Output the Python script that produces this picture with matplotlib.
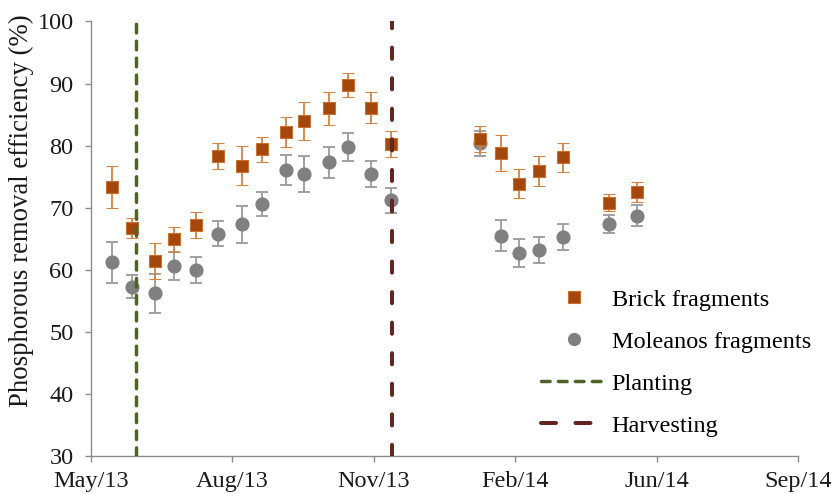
import matplotlib
matplotlib.use("Agg")
import matplotlib.pyplot as plt
import matplotlib.dates as mdates
from matplotlib.lines import Line2D
import pandas as pd

plt.rcParams["font.family"] = ["Liberation Serif", "DejaVu Serif"]
plt.rcParams["lines.scale_dashes"] = False

# Sampling dates
sample_dates = [
    "2013-05-16", "2013-05-30", "2013-06-15", "2013-06-29", "2013-07-14",
    "2013-07-30", "2013-08-16", "2013-08-30", "2013-09-16", "2013-09-29",
    "2013-10-16", "2013-10-30", "2013-11-15", "2013-11-29", "2014-01-31",
    "2014-02-15", "2014-02-28", "2014-03-14", "2014-03-31", "2014-05-02",
    "2014-05-22",
]

# Phosphorous removal efficiency (%) and standard deviations
brick_mean = [73.4, 66.7, 61.4, 64.9, 67.2, 78.4, 76.8, 79.4, 82.2, 84.0,
              86.0, 89.8, 86.1, 80.3, 81.1, 78.8, 73.9, 75.9, 78.1, 70.8, 72.5]
brick_sd = [3.4, 1.6, 2.9, 2.0, 2.1, 2.1, 3.2, 2.0, 2.4, 3.1,
            2.6, 1.9, 2.5, 2.1, 2.1, 2.9, 2.4, 2.4, 2.4, 1.4, 1.6]

moleanos_mean = [61.2, 57.3, 56.2, 60.6, 59.9, 65.8, 67.3, 70.6, 76.1, 75.4,
                 77.3, 79.8, 75.4, 71.2, 80.4, 65.5, 62.7, 63.2, 65.3, 67.4, 68.7]
moleanos_sd = [3.3, 1.9, 3.1, 2.2, 2.1, 2.0, 3.0, 1.9, 2.4, 2.9,
               2.5, 2.3, 2.1, 2.0, 2.0, 2.5, 2.2, 2.1, 2.1, 1.5, 1.7]

planting_date = "2013-06-02"
harvest_date = "2013-11-30"

series_labels = ["Brick fragments", "Moleanos fragments", "Planting", "Harvesting"]

# Date axis: start and 100-day major unit
axis_start = pd.Timestamp("2013-05-01")
major_days = 100
n_major = 5

brick_face = "#A4470C"
brick_edge = "#C8712F"
brick_err = "#D08545"
gray_face = "#808080"
gray_err = "#9A9A9A"
plant_color = "#4F6228"
harvest_color = "#632523"
axis_color = "#8C8C8C"

plant_dash = (6.2, 6.0)
harvest_dash_axis = (8, 14)
harvest_dash_legend = (10.8, 14.0)

dates = pd.to_datetime(sample_dates)

fig = plt.figure(figsize=(8.33, 4.94), dpi=100)
ax = fig.add_axes([0.1092, 0.0769, 0.958 - 0.1092, 0.9565 - 0.0769])

ax.errorbar(dates, moleanos_mean, yerr=moleanos_sd, fmt="o", ms=9.2,
            mfc=gray_face, mec=gray_face, ecolor=gray_err, elinewidth=1.3,
            capsize=4.5, capthick=1.3, zorder=3)
ax.errorbar(dates, brick_mean, yerr=brick_sd, fmt="s", ms=8.4,
            mfc=brick_face, mec=brick_edge, mew=0.8, ecolor=brick_err,
            elinewidth=1.3, capsize=4.5, capthick=1.3, zorder=4)

ax.axvline(pd.Timestamp(planting_date), color=plant_color, lw=2.5,
           dashes=plant_dash, dash_capstyle="round", zorder=5)
ax.axvline(pd.Timestamp(harvest_date), color=harvest_color, lw=2.9,
           dashes=harvest_dash_axis, dash_capstyle="round", zorder=5)

tick_dates = [axis_start + pd.Timedelta(days=major_days * i) for i in range(n_major + 1)]
ax.set_xlim(tick_dates[0], tick_dates[-1])
ax.set_xticks(tick_dates)
ax.xaxis.set_major_formatter(mdates.DateFormatter("%b/%y"))
ax.set_ylim(30, 100)
ax.set_yticks(range(30, 101, 10))

for side in ("top", "right"):
    ax.spines[side].set_visible(False)
for side in ("left", "bottom"):
    ax.spines[side].set_color(axis_color)
    ax.spines[side].set_linewidth(1.0)
ax.tick_params(axis="both", colors=axis_color, labelcolor="#1a1a1a",
               labelsize=17.5, length=4.5, width=1.0, direction="out")
ax.tick_params(axis="y", pad=8)
ax.tick_params(axis="x", pad=6.5)

ax.set_ylabel("Phosphorous removal efficiency (%)", fontsize=19.3, color="#1a1a1a")
ax.yaxis.set_label_coords(-0.0806, 0.564)

handles = [
    Line2D([], [], ls="none", marker="s", ms=8.4, mfc=brick_face, mec=brick_edge, mew=0.8),
    Line2D([], [], ls="none", marker="o", ms=8.5, mfc=gray_face, mec=gray_face),
    Line2D([], [], color=plant_color, lw=2.5, dashes=plant_dash, dash_capstyle="round"),
    Line2D([], [], color=harvest_color, lw=2.9, dashes=harvest_dash_legend,
           dash_capstyle="round"),
]
leg = ax.legend(handles, series_labels, loc="lower left",
                bbox_to_anchor=(0.623, 0.022), frameon=False, fontsize=17.5,
                handlelength=2.7, handletextpad=0.2, labelspacing=0.82,
                borderaxespad=0)

fig.savefig("out.png", dpi=100)
